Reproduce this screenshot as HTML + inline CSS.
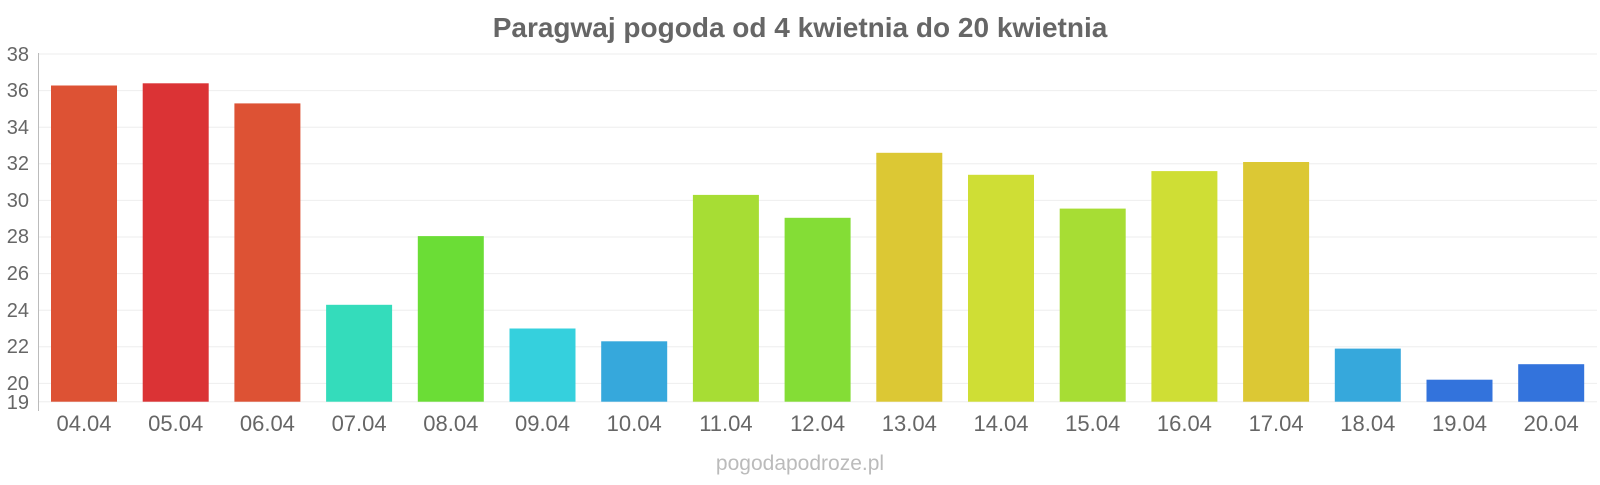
<!DOCTYPE html>
<html><head><meta charset="utf-8"><style>
body{margin:0;background:#fff;font-family:"Liberation Sans",sans-serif}
</style></head><body>
<svg width="1600" height="480" xmlns="http://www.w3.org/2000/svg" font-family="Liberation Sans, sans-serif">
<text x="800" y="37" text-anchor="middle" font-size="28" font-weight="bold" fill="#666">Paragwaj pogoda od 4 kwietnia do 20 kwietnia</text>
<g stroke="#eee" stroke-width="1">
<line x1="38" x2="1597" y1="54" y2="54"/><line x1="38" x2="1597" y1="90.6" y2="90.6"/><line x1="38" x2="1597" y1="127.2" y2="127.2"/><line x1="38" x2="1597" y1="163.8" y2="163.8"/><line x1="38" x2="1597" y1="200.4" y2="200.4"/><line x1="38" x2="1597" y1="237" y2="237"/><line x1="38" x2="1597" y1="273.6" y2="273.6"/><line x1="38" x2="1597" y1="310.2" y2="310.2"/><line x1="38" x2="1597" y1="346.8" y2="346.8"/><line x1="38" x2="1597" y1="383.4" y2="383.4"/><line x1="38" x2="1597" y1="401.7" y2="401.7"/>
</g>
<line x1="38.5" x2="38.5" y1="53" y2="411" stroke="#bbb"/>
<g font-size="20" fill="#666" text-anchor="end">
<text x="29" y="61">38</text><text x="29" y="97">36</text><text x="29" y="134">34</text><text x="29" y="170">32</text><text x="29" y="207">30</text><text x="29" y="243">28</text><text x="29" y="280">26</text><text x="29" y="317">24</text><text x="29" y="353">22</text><text x="29" y="390">20</text><text x="29" y="409">19</text>
</g>
<g>
<rect x="51" y="85.5" width="66" height="316.2" fill="#dd5234"/>
<rect x="142.7" y="83.3" width="66" height="318.4" fill="#db3335"/>
<rect x="234.4" y="103.4" width="66" height="298.3" fill="#dd5234"/>
<rect x="326.1" y="304.8" width="66" height="96.9" fill="#34dcbb"/>
<rect x="417.8" y="236.1" width="66" height="165.6" fill="#6bdd36"/>
<rect x="509.5" y="328.5" width="66" height="73.2" fill="#35d0dd"/>
<rect x="601.2" y="341.3" width="66" height="60.4" fill="#36a8dc"/>
<rect x="692.9" y="194.9" width="66" height="206.8" fill="#a7dd34"/>
<rect x="784.6" y="217.8" width="66" height="183.9" fill="#84dd36"/>
<rect x="876.3" y="152.8" width="66" height="248.9" fill="#dcc834"/>
<rect x="968" y="174.8" width="66" height="226.9" fill="#cfde35"/>
<rect x="1059.7" y="208.6" width="66" height="193.1" fill="#a7dd34"/>
<rect x="1151.4" y="171.1" width="66" height="230.6" fill="#cfde35"/>
<rect x="1243.1" y="162" width="66" height="239.7" fill="#dcc834"/>
<rect x="1334.8" y="348.6" width="66" height="53.1" fill="#36a8dc"/>
<rect x="1426.5" y="379.7" width="66" height="22" fill="#3373dc"/>
<rect x="1518.2" y="364.2" width="66" height="37.5" fill="#3373dc"/>
</g>
<g font-size="22" fill="#666" text-anchor="middle">
<text x="84" y="431">04.04</text><text x="175.7" y="431">05.04</text><text x="267.4" y="431">06.04</text><text x="359.1" y="431">07.04</text><text x="450.8" y="431">08.04</text><text x="542.5" y="431">09.04</text><text x="634.2" y="431">10.04</text><text x="725.9" y="431">11.04</text><text x="817.6" y="431">12.04</text><text x="909.3" y="431">13.04</text><text x="1001" y="431">14.04</text><text x="1092.7" y="431">15.04</text><text x="1184.4" y="431">16.04</text><text x="1276.1" y="431">17.04</text><text x="1367.8" y="431">18.04</text><text x="1459.5" y="431">19.04</text><text x="1551.2" y="431">20.04</text>
</g>
<text x="800" y="470" text-anchor="middle" font-size="21" fill="#bbb">pogodapodroze.pl</text>
</svg>
</body></html>
